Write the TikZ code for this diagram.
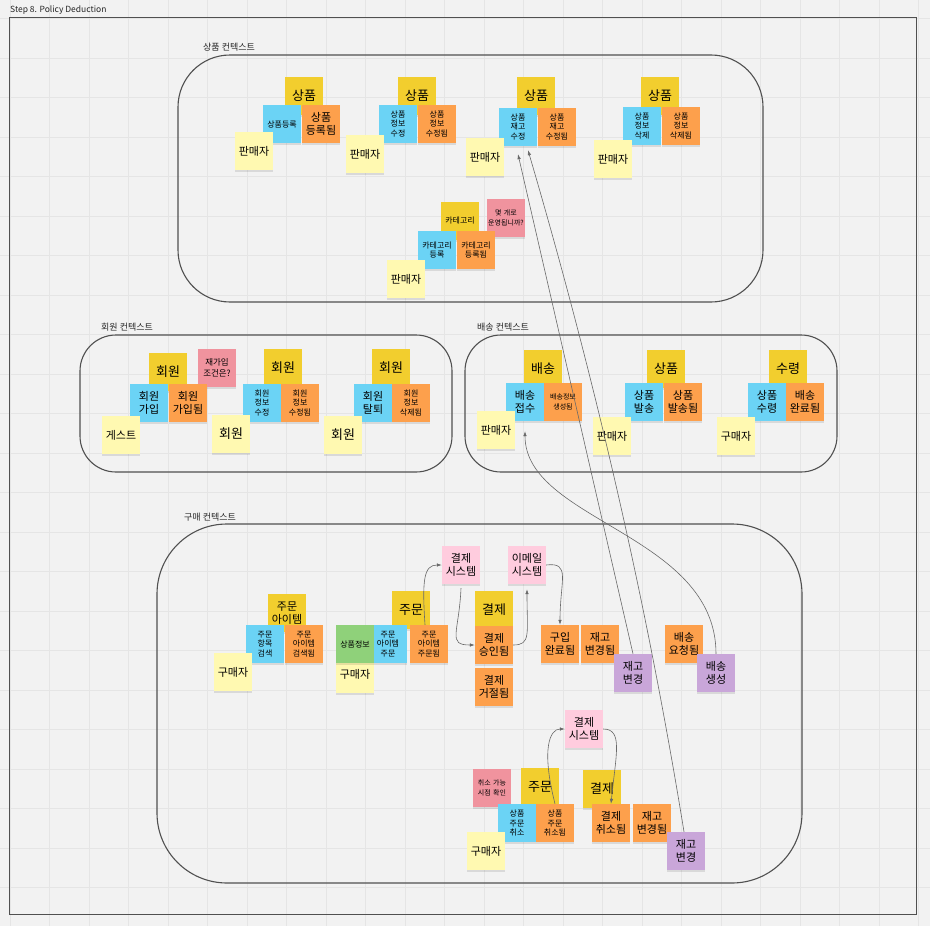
\documentclass[tikz,border=0pt]{standalone}
\usepackage{fontspec}
\setmainfont{Noto Sans CJK KR}
\usetikzlibrary{arrows.meta,backgrounds,shadows}
\definecolor{boardBg}{RGB}{242,242,242}
\definecolor{boardGrid}{RGB}{229,229,229}
\definecolor{boardLine}{RGB}{80,80,80}
\definecolor{flowGray}{RGB}{105,105,105}
\definecolor{aggYellow}{RGB}{242,206,46}
\definecolor{cmdBlue}{RGB}{107,211,245}
\definecolor{evtOrange}{RGB}{253,160,76}
\definecolor{actorYellow}{RGB}{255,249,177}
\definecolor{sysPink}{RGB}{255,204,222}
\definecolor{hotRed}{RGB}{240,147,158}
\definecolor{policyPurple}{RGB}{201,166,217}
\definecolor{readGreen}{RGB}{143,209,122}

\begin{document}
\begin{tikzpicture}[
  x=1pt, y=-1pt,
  every node/.style={align=center},
  gridline/.style={draw=boardGrid, line width=0.8pt},
  frame/.style={draw=boardLine, line width=1pt},
  ctxbox/.style={draw=boardLine, line width=1.1pt},
  ctxtitle/.style={font=\fontsize{9}{10}\selectfont, text=black!85, anchor=west, inner sep=0pt},
  sticky/.style={minimum width=38, minimum height=38, text width=37, inner sep=0.5pt, text=black,
    drop shadow={shadow xshift=0pt, shadow yshift=-2pt, opacity=0.1, fill=black}},
  txtBig/.style={font=\fontsize{13}{15}\selectfont},
  txtMid/.style={font=\fontsize{11}{13}\selectfont},
  txtSmall/.style={font=\fontsize{8}{9.6}\selectfont},
  txtQuery/.style={font=\fontsize{8.5}{11}\selectfont},
  txtTiny/.style={font=\fontsize{7}{9.5}\selectfont},
  aggregate/.style={sticky, fill=aggYellow},
  command/.style={sticky, fill=cmdBlue},
  event/.style={sticky, fill=evtOrange},
  actor/.style={sticky, fill=actorYellow},
  extsys/.style={sticky, fill=sysPink},
  hotspot/.style={sticky, fill=hotRed},
  policy/.style={sticky, fill=policyPurple},
  readmodel/.style={sticky, fill=readGreen},
  flow/.style={-{Latex[length=5pt,width=3.5pt]}, line width=0.6pt, draw=flowGray}
]
\useasboundingbox (0,0) rectangle (930,926);

% - board -
\begin{scope}[on background layer]
  \fill[boardBg] (0,0) rectangle (930,926);
  \foreach \gx in {0,...,23} \draw[gridline] ({10+39.5*\gx},0) -- ({10+39.5*\gx},926);
  \foreach \gy in {0,...,22} \draw[gridline] (0,{18.5+39.5*\gy}) -- (930,{18.5+39.5*\gy});
  \draw[frame] (9,17) rectangle (916,914);
  \draw[ctxbox, rounded corners=52pt] (178,55) rectangle (763,302);
  \draw[ctxbox, rounded corners=36pt] (80,335) rectangle (452,472);
  \draw[ctxbox, rounded corners=36pt] (465,335) rectangle (837,472);
  \draw[ctxbox, rounded corners=70pt] (157,524) rectangle (802,883);
\end{scope}
\node[ctxtitle, font=\fontsize{8.5}{10}\selectfont] (stepTitle) at (10,10) {Step 8. Policy Deduction};
\node[ctxtitle] (tProduct) at (203,47) {상품 컨텍스트};
\node[ctxtitle] (tMember) at (101,327) {회원 컨텍스트};
\node[ctxtitle] (tDelivery) at (477,327) {배송 컨텍스트};
\node[ctxtitle] (tPurchase) at (184,517) {구매 컨텍스트};

% - 1. 상품 컨텍스트 -
\node[aggregate, txtBig] (prodAgg1) at (304,96) {상품};
\node[command, txtSmall] (prodReg) at (282,124) {상품등록};
\node[event, txtMid] (prodRegd) at (321,124) {상품\\등록됨};
\node[actor, txtMid] (seller1) at (254,151) {판매자};

\node[aggregate, txtBig] (prodAgg2) at (417,96) {상품};
\node[command, txtSmall] (prodEdit) at (398,124) {상품\\정보\\수정};
\node[event, txtSmall] (prodEdited) at (437,124) {상품\\정보\\수정됨};
\node[actor, txtMid] (seller2) at (365,154) {판매자};

\node[aggregate, txtBig] (prodAgg3) at (536,96) {상품};
\node[command, txtSmall] (stockUpdate) at (518,127) {상품\\재고\\수정};
\node[event, txtSmall] (stockUpdated) at (557,127) {상품\\재고\\수정됨};
\node[actor, txtMid] (seller3) at (485,157) {판매자};

\node[aggregate, txtBig] (prodAgg4) at (660,96) {상품};
\node[command, txtSmall] (prodDel) at (642,126) {상품\\정보\\삭제};
\node[event, txtSmall] (prodDeld) at (681,126) {상품\\정보\\삭제됨};
\node[actor, txtMid] (seller4) at (613,159) {판매자};

\node[aggregate, txtSmall] (catAgg) at (460,221) {카테고리};
\node[hotspot, txtTiny] (catQ) at (506,218) {몇 개로\\운영됩니까?};
\node[command, txtSmall] (catReg) at (437,250) {카테고리\\등록};
\node[event, txtSmall] (catRegd) at (476,250) {카테고리\\등록됨};
\node[actor, txtMid] (seller5) at (406,279) {판매자};

% - 2. 회원 컨텍스트 -
\node[aggregate, txtBig] (memAgg1) at (168,372) {회원};
\node[hotspot, txtQuery] (memQ) at (217,368) {재가입\\조건은?};
\node[command, txtMid] (memJoin) at (149,403) {회원\\가입};
\node[event, txtMid] (memJoined) at (188,403) {회원\\가입됨};
\node[actor, txtMid] (guest) at (121,435) {게스트};

\node[aggregate, txtBig] (memAgg2) at (283,368) {회원};
\node[command, txtSmall] (memEdit) at (262,403) {회원\\정보\\수정};
\node[event, txtSmall] (memEdited) at (300,403) {회원\\정보\\수정됨};
\node[actor, txtBig] (member1) at (231,434) {회원};

\node[aggregate, txtBig] (memAgg3) at (391,368) {회원};
\node[command, txtMid] (memLeave) at (373,403) {회원\\탈퇴};
\node[event, txtSmall] (memLeft) at (411,403) {회원\\정보\\삭제됨};
\node[actor, txtBig] (member2) at (343,435) {회원};

% - 3. 배송 컨텍스트 -
\node[aggregate, txtBig] (delAgg) at (543,369) {배송};
\node[command, txtMid] (delAccept) at (525,402) {배송\\접수};
\node[event, txtTiny] (delCreated) at (563,402) {배송정보\\생성됨};
\node[actor, txtMid] (seller6) at (496,430) {판매자};

\node[aggregate, txtBig] (shipAgg) at (666,369) {상품};
\node[command, txtMid] (ship) at (644,402) {상품\\발송};
\node[event, txtMid] (shipped) at (683,402) {상품\\발송됨};
\node[actor, txtMid] (seller7) at (612,436) {판매자};

\node[aggregate, txtBig] (recvAgg) at (788,369) {수령};
\node[command, txtMid] (recv) at (767,402) {상품\\수령};
\node[event, txtMid] (delDone) at (805,402) {배송\\완료됨};
\node[actor, txtMid] (buyer1) at (736,436) {구매자};

% - 4. 구매 컨텍스트 -
\node[aggregate, txtMid] (itemAgg) at (287,613) {주문\\아이템};
\node[command, txtSmall] (itemSearch) at (265,644) {주문\\항목\\검색};
\node[event, txtSmall] (itemSearched) at (304,644) {주문\\아이템\\검색됨};
\node[actor, txtMid] (buyer2) at (233,672) {구매자};

\node[aggregate, txtBig] (orderAgg) at (411,610) {주문};
\node[command, txtSmall] (itemOrder) at (388,644) {주문\\아이템\\주문};
\node[event, txtSmall] (itemOrdered) at (429,644) {주문\\아이템\\주문됨};
\node[actor, txtMid] (buyer3) at (355,674) {구매자};
\node[readmodel, txtSmall] (prodInfo) at (355,644) {상품정보};

\node[extsys, txtMid] (paySys) at (461,565) {결제\\시스템};
\node[extsys, txtMid] (emailSys) at (527,565) {이메일\\시스템};
\node[aggregate, txtBig] (payAgg) at (494,610) {결제};
\node[event, txtMid] (payOk) at (494,645) {결제\\승인됨};
\node[event, txtMid] (payFail) at (494,687) {결제\\거절됨};
\node[event, txtMid] (buyDone) at (560,644) {구입\\완료됨};
\node[event, txtMid] (stockChanged) at (600,644) {재고\\변경됨};
\node[policy, txtMid] (stockChange) at (633,673) {재고\\변경};
\node[event, txtMid] (delReq) at (684,644) {배송\\요청됨};
\node[policy, txtMid] (delCreate) at (716,673) {배송\\생성};

\node[extsys, txtMid] (paySys2) at (584,729) {결제\\시스템};
\node[aggregate, txtBig] (orderAgg2) at (540,787) {주문};
\node[aggregate, txtBig] (payAgg2) at (602,789) {결제};
\node[hotspot, txtTiny] (cancelQ) at (492,788) {취소 가능\\시점 확인};
\node[command, txtSmall] (cancelOrder) at (517,823) {상품\\주문\\취소};
\node[event, txtSmall] (cancelDone) at (555,823) {상품\\주문\\취소됨};
\node[actor, txtMid] (buyer4) at (486,851) {구매자};
\node[event, txtMid] (payCancelled) at (611,823) {결제\\취소됨};
\node[event, txtMid] (stockChanged2) at (652,823) {재고\\변경됨};
\node[policy, txtMid] (stockChange2) at (686,851) {재고\\변경};

% - policy flows -
\draw[flow] ([xshift=-4pt]itemOrdered.north) .. controls +(-3,-45) and +(-18,0) .. (paySys.west);
\draw[flow] ([yshift=-4pt]paySys.south) .. controls +(-2,45) and +(-28,0) .. (payOk.west);
\draw[flow] (payOk.east) .. controls +(18,0) and +(0,45) .. ([yshift=-5pt]emailSys.south);
\draw[flow] (emailSys.east) .. controls +(25,-3) and +(0,-45) .. (buyDone.north);

\draw[flow] (cancelDone.north) .. controls +(-14,-55) and +(-15,0) .. (paySys2.west);
\draw[flow] (paySys2.east) .. controls +(20,0) and +(5,-50) .. (payCancelled.north);

\draw[flow] (stockChange.north) -- ([yshift=-8pt]stockUpdate.south);
\draw[flow] ([xshift=-2pt]stockChange2.north) .. controls +(-37,-228) and +(67,228)
  .. ([xshift=10pt,yshift=-4pt]stockUpdate.south);
\draw[flow] (delCreate.north) .. controls +(0,-120) and +(0,90) .. ([yshift=-10pt]delAccept.south);

\end{tikzpicture}
\end{document}
